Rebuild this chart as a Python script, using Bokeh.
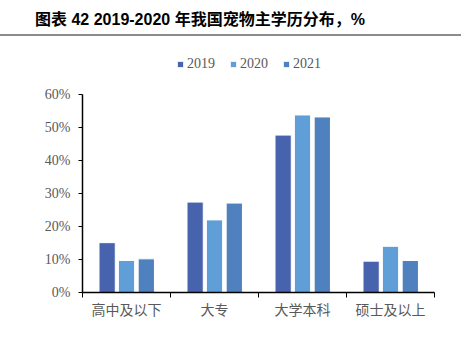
from bokeh.plotting import figure
from bokeh.layouts import column
from bokeh.models import (ColumnDataSource, FixedTicker, PrintfTickFormatter, Range1d,
                          Legend, LegendItem, Div)
from bokeh.embed import file_html
from bokeh.resources import INLINE

title_text = "图表 42 2019-2020 年我国宠物主学历分布，%"
categories = ["高中及以下", "大专", "大学本科", "硕士及以上"]
years = ["2019", "2020", "2021"]
v2019 = [15.1, 27.4, 47.7, 9.5]
v2020 = [9.7, 22.0, 53.8, 14.0]
v2021 = [10.2, 27.1, 53.2, 9.7]
colors = ["#4863AD", "#5F9ED6", "#4F81BE"]
yticks = [0, 10, 20, 30, 40, 50, 60]
ymax_axis = 60

serif = "Liberation Serif, Noto Sans CJK SC"

W = 461
H_TOP = 36
header = Div(text=title_text, width=W, height=H_TOP, margin=0,
             styles={"font-family": "Liberation Sans, 'Noto Sans CJK SC'", "font-weight": "bold",
                     "font-size": "16px", "color": "#000000", "padding-left": "35px",
                     "padding-top": "9px", "box-sizing": "border-box",
                     "border-bottom": "2px solid #8C8C8C", "white-space": "nowrap"})

H_BOT = 357 - H_TOP
top_border = 10           # frame top at 46 px on the page
bottom_border = 65        # frame bottom (0 %) at 292 px
axis_px = 198             # pixels spanned by 0..60 %
frame_h = H_BOT - top_border - bottom_border
y_top = ymax_axis * frame_h / axis_px

p = figure(width=W, height=H_BOT, output_backend="svg", toolbar_location=None,
           x_range=Range1d(0, len(categories)), y_range=Range1d(0, y_top),
           min_border_left=82, min_border_right=27, min_border_top=top_border,
           min_border_bottom=bottom_border)
p.grid.visible = False
p.outline_line_color = None

centers = [i + 0.5 for i in range(len(categories))]
offsets = [-0.22, 0.0, 0.225]
series = [v2019, v2020, v2021]
items = []
for yr, vals, off, col in zip(years, series, offsets, colors):
    src = ColumnDataSource(dict(x=[c + off for c in centers], top=vals))
    r = p.vbar(x="x", top="top", width=0.185, source=src, fill_color=col,
               line_color="white", line_width=1)
    items.append(LegendItem(label=yr, renderers=[r]))

legend = Legend(items=items, orientation="horizontal", location=(94, 220),
                glyph_width=8, glyph_height=8, label_standoff=3, spacing=14,
                label_text_font=serif, label_text_font_size="14px", label_text_color="#595959",
                background_fill_alpha=0, border_line_color=None, padding=0, margin=0)
p.add_layout(legend, "center")

xa = p.xaxis[0]
xa.ticker = FixedTicker(ticks=centers, minor_ticks=[0, 1, 2, 3, 4])
xa.major_label_overrides = {c: cat for c, cat in zip(centers, categories)}
xa.major_tick_out = 0
xa.major_tick_in = 0
xa.minor_tick_out = 5
xa.minor_tick_in = 0
xa.minor_tick_line_color = "#000000"
xa.axis_line_color = "#000000"
xa.axis_line_width = 1.5
xa.major_label_standoff = 5
xa.major_label_text_font = serif
xa.major_label_text_font_size = "14px"
xa.major_label_text_color = "#595959"

ya = p.yaxis[0]
ya.bounds = (0, ymax_axis)
ya.ticker = FixedTicker(ticks=yticks, minor_ticks=[])
ya.formatter = PrintfTickFormatter(format="%d%%")
ya.major_tick_out = 4
ya.major_tick_in = 0
ya.major_tick_line_color = "#000000"
ya.axis_line_color = "#000000"
ya.axis_line_width = 1.5
ya.major_label_standoff = 8
ya.major_label_text_font = serif
ya.major_label_text_font_size = "14px"
ya.major_label_text_color = "#595959"

layout = column(header, p, spacing=0)
open("out.html", "w").write(file_html(layout, INLINE))
